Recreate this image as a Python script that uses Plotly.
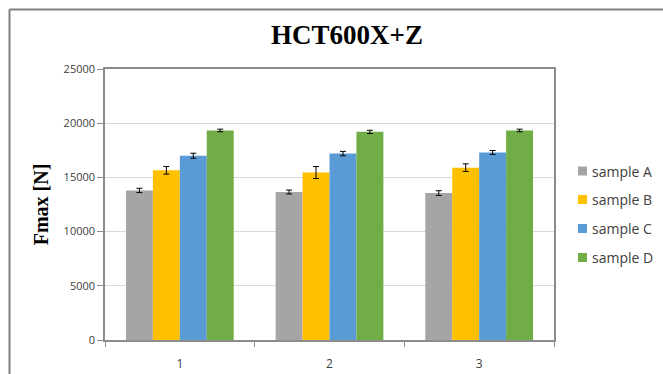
import plotly.graph_objects as go

# Data: maximum force per sample, with standard deviations
groups = ["1", "2", "3"]
series = ["sample A", "sample B", "sample C", "sample D"]
fmax_a = [13800, 13650, 13550]
fmax_b = [15650, 15450, 15900]
fmax_c = [17000, 17200, 17300]
fmax_d = [19330, 19200, 19330]
err_a = [200, 180, 220]
err_b = [350, 550, 350]
err_c = [230, 200, 180]
err_d = [120, 150, 120]
colors = ["#A5A5A5", "#FFC000", "#5B9BD5", "#70AD47"]
y_ticks = [0, 5000, 10000, 15000, 20000, 25000]
y_tick_text = ["0", "5000", "10000", "15000", "20000", "25000"]

values = [fmax_a, fmax_b, fmax_c, fmax_d]
errors = [err_a, err_b, err_c, err_d]

W, H = 663, 374
L, R, T, B = 105, 109, 69, 34
pw, ph = W - L - R, H - T - B


def px_x(x):
    return (x - L) / pw


def px_y(y):
    return 1 - (y - T) / ph


fig = go.Figure()
for name, vals, errs, col in zip(series, values, errors, colors):
    fig.add_trace(go.Bar(
        x=groups, y=vals, name=name, marker_color=col,
        marker_line_width=0,
        error_y=dict(type="data", array=errs, color="#000000",
                     thickness=1, width=3),
        showlegend=False,
    ))

# Legend drawn as small colour squares with labels
legend_y = [171, 199.5, 228.5, 257.5]
for name, col, ly in zip(series, colors, legend_y):
    fig.add_shape(type="rect", xref="paper", yref="paper",
                  x0=px_x(578), x1=px_x(587), y0=px_y(ly + 4.5), y1=px_y(ly - 4.5),
                  fillcolor=col, line_width=0)
    fig.add_annotation(xref="paper", yref="paper", x=px_x(590), y=px_y(ly),
                       text=name, showarrow=False, xanchor="left", yanchor="middle",
                       font=dict(family="Open Sans", size=14, color="#404040"))

# Outer frame (top and left edges)
fig.add_shape(type="line", xref="paper", yref="paper",
              x0=px_x(9.5), x1=px_x(663), y0=px_y(9.5), y1=px_y(9.5),
              line=dict(color="#7F7F7F", width=2))
fig.add_shape(type="line", xref="paper", yref="paper",
              x0=px_x(9.5), x1=px_x(9.5), y0=px_y(9.5), y1=px_y(374),
              line=dict(color="#7F7F7F", width=2))

fig.update_layout(
    width=W, height=H,
    margin=dict(l=L, r=R, t=T, b=B),
    paper_bgcolor="white", plot_bgcolor="white",
    barmode="group", bargap=0.28, bargroupgap=0,
    title=dict(text="<b>HCT600X+Z</b>", x=px_x(340), xanchor="center",
               y=1 - 35 / H, yanchor="middle",
               font=dict(family="Liberation Serif", size=27, color="#000000")),
    xaxis=dict(
        type="category", showgrid=False, showline=True, mirror=True,
        linecolor="#8C8C8C", linewidth=1.5, automargin=False,
        ticks="outside", tickson="boundaries", ticklen=5, tickcolor="#8C8C8C",
        ticklabelstandoff=12,
        tickfont=dict(family="Open Sans", size=12, color="#404040"),
    ),
    yaxis=dict(
        range=[0, 25000], tickvals=y_ticks, ticktext=y_tick_text, showgrid=True,
        gridcolor="#D9D9D9", gridwidth=1, zeroline=False, automargin=False,
        showline=True, mirror=True, linecolor="#8C8C8C", linewidth=1.5,
        ticks="outside", ticklen=6, tickcolor="#8C8C8C",
        tickfont=dict(family="Open Sans", size=11, color="#404040"),
        title=dict(text="<b>Fmax [N]</b>", standoff=10,
                   font=dict(family="Liberation Serif", size=20, color="#000000")),
    ),
)

fig.write_html("out.html")
